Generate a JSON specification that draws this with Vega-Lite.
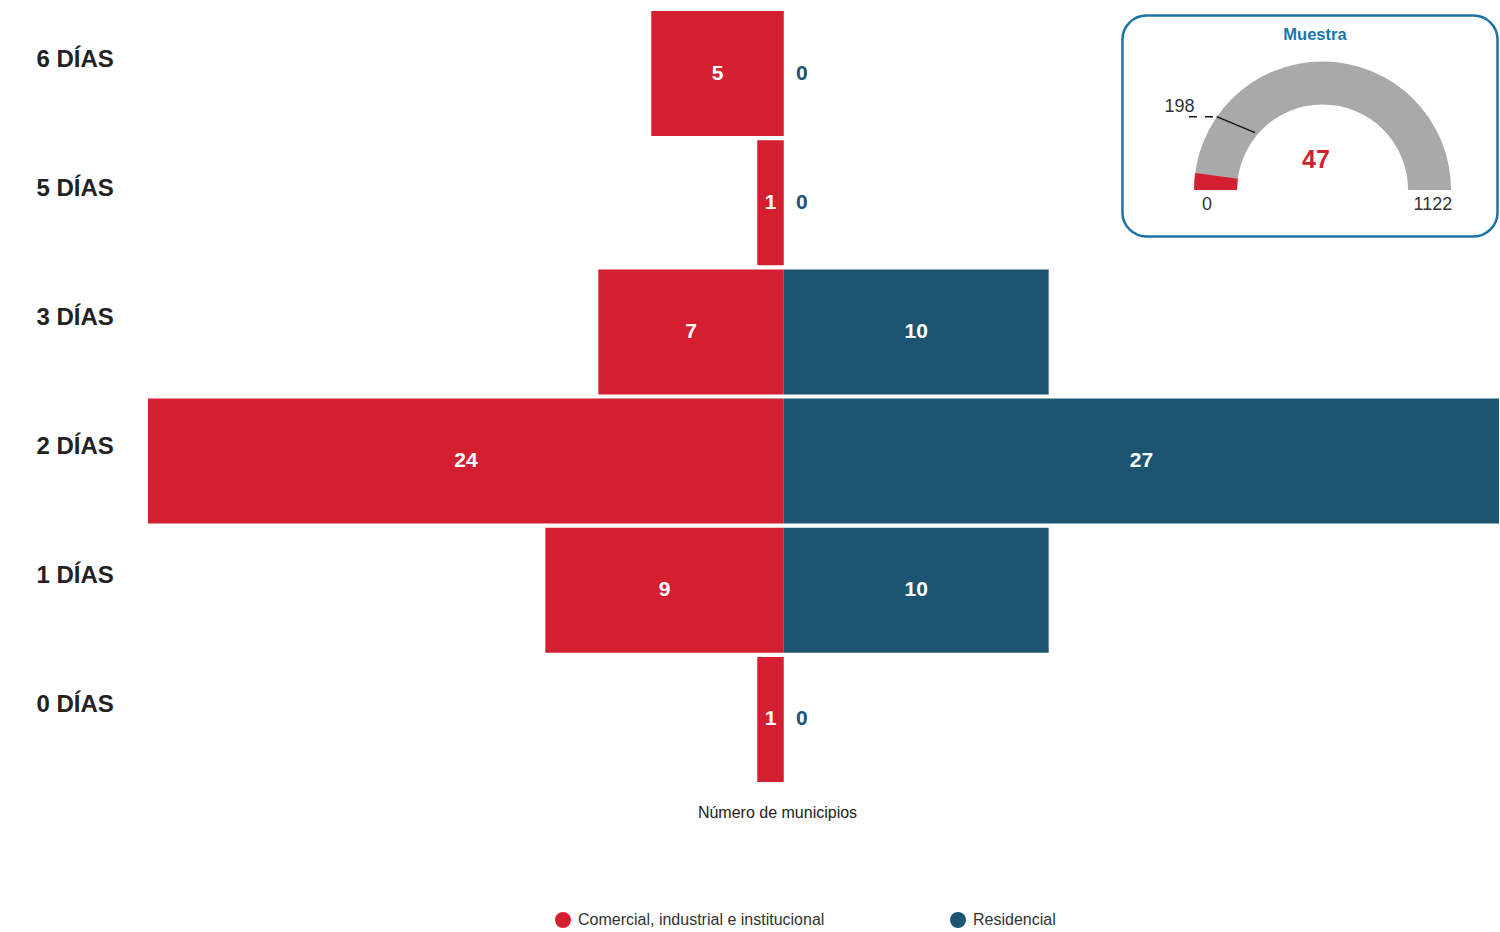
{
  "$schema": "https://vega.github.io/schema/vega-lite/v6.json",
  "width": 1351,
  "height": 775,
  "autosize": {"type": "pad"},
  "padding": {"left": 36, "top": 9, "right": 1, "bottom": 4},
  "config": {
    "view": {"stroke": null},
    "font": "Liberation Sans",
    "text": {"font": "Liberation Sans"}
  },
  "datasets": {
    "dias": [
      {"dias": "6 DÍAS", "tipo": "Comercial, industrial e institucional", "n": 5},
      {"dias": "6 DÍAS", "tipo": "Residencial", "n": 0},
      {"dias": "5 DÍAS", "tipo": "Comercial, industrial e institucional", "n": 1},
      {"dias": "5 DÍAS", "tipo": "Residencial", "n": 0},
      {"dias": "3 DÍAS", "tipo": "Comercial, industrial e institucional", "n": 7},
      {"dias": "3 DÍAS", "tipo": "Residencial", "n": 10},
      {"dias": "2 DÍAS", "tipo": "Comercial, industrial e institucional", "n": 24},
      {"dias": "2 DÍAS", "tipo": "Residencial", "n": 27},
      {"dias": "1 DÍAS", "tipo": "Comercial, industrial e institucional", "n": 9},
      {"dias": "1 DÍAS", "tipo": "Residencial", "n": 10},
      {"dias": "0 DÍAS", "tipo": "Comercial, industrial e institucional", "n": 1},
      {"dias": "0 DÍAS", "tipo": "Residencial", "n": 0}
    ],
    "gauge": [
      {"concepto": "Muestra", "valor": 47},
      {"concepto": "Total", "valor": 1122},
      {"concepto": "Referencia", "valor": 198}
    ]
  },
  "layer": [
    {
      "data": {"name": "dias"},
      "transform": [
        {"calculate": "datum.tipo == 'Residencial' ? datum.n : -datum.n", "as": "pos"},
        {"calculate": "datum.pos / 2", "as": "mid"}
      ],
      "layer": [
        {
          "mark": {"type": "bar"},
          "encoding": {
            "y": {
              "field": "dias", "type": "nominal",
              "sort": ["6 DÍAS", "5 DÍAS", "3 DÍAS", "2 DÍAS", "1 DÍAS", "0 DÍAS"],
              "scale": {"paddingInner": 0.0325, "paddingOuter": 0.01625},
              "axis": {
                "title": null, "domain": false, "ticks": false, "grid": false,
                "labelFontSize": 24, "labelFontWeight": "bold", "labelColor": "#222222",
                "labelAlign": "left", "labelPadding": 112, "labelOffset": -14,
                "labelBaseline": "middle", "labelFont": "Liberation Sans"
              }
            },
            "x": {
              "field": "pos", "type": "quantitative", "stack": null,
              "scale": {"domain": [-24, 27], "nice": false},
              "axis": {
                "title": "Número de municipios", "labels": false, "ticks": false,
                "domain": false, "grid": false, "titleFontSize": 16,
                "titleFontWeight": "normal", "titleColor": "#222222",
                "titlePadding": 20, "titleX": 629, "titleFont": "Liberation Sans"
              }
            },
            "color": {
              "field": "tipo", "type": "nominal",
              "scale": {
                "domain": ["Comercial, industrial e institucional", "Residencial"],
                "range": ["#d41f30", "#1c5472"]
              },
              "legend": {
                "title": null, "orient": "none", "legendX": 407, "legendY": 903,
                "direction": "horizontal", "symbolType": "circle", "symbolSize": 256,
                "symbolStrokeWidth": 0, "symbolOpacity": 1, "labelFontSize": 16,
                "labelColor": "#333333", "labelFont": "Liberation Sans", "labelLimit": 500,
                "columnPadding": 125, "labelOffset": 7
              }
            }
          }
        },
        {
          "transform": [{"filter": "datum.n > 0"}],
          "mark": {"type": "text", "fontSize": 21, "fontWeight": "bold", "color": "#ffffff", "align": "center", "baseline": "middle"},
          "encoding": {
            "y": {"field": "dias", "type": "nominal", "sort": ["6 DÍAS", "5 DÍAS", "3 DÍAS", "2 DÍAS", "1 DÍAS", "0 DÍAS"]},
            "x": {"field": "mid", "type": "quantitative"},
            "text": {"field": "n", "type": "quantitative"}
          }
        },
        {
          "transform": [{"filter": "datum.n == 0"}],
          "mark": {"type": "text", "fontSize": 21, "fontWeight": "bold", "color": "#1c5472", "align": "center", "baseline": "middle", "dx": 18},
          "encoding": {
            "y": {"field": "dias", "type": "nominal", "sort": ["6 DÍAS", "5 DÍAS", "3 DÍAS", "2 DÍAS", "1 DÍAS", "0 DÍAS"]},
            "x": {"field": "pos", "type": "quantitative"},
            "text": {"field": "n", "type": "quantitative"}
          }
        }
      ]
    },
    {
      "data": {"name": "gauge"},
      "layer": [
        {
          "transform": [{"filter": "datum.concepto == 'Total'"}],
          "mark": {"type": "rect", "filled": false, "color": "#1b73a6", "strokeWidth": 2.5, "cornerRadius": 24},
          "encoding": {
            "x": {"datum": 0.7213, "type": "quantitative", "scale": {"domain": [0, 1]}, "axis": null},
            "x2": {"datum": 0.9989},
            "y": {"datum": 0.0084, "type": "quantitative", "scale": {"domain": [0, 1], "reverse": true}, "axis": null},
            "y2": {"datum": 0.2935}
          }
        },
        {
          "transform": [{"filter": "datum.concepto == 'Total'"}],
          "mark": {"type": "text", "fontSize": 16.5, "fontWeight": "bold", "color": "#1b75a8", "align": "center", "baseline": "middle"},
          "encoding": {
            "x": {"datum": 0.8638, "type": "quantitative", "axis": null},
            "y": {"datum": 0.0335, "type": "quantitative", "axis": null},
            "text": {"value": "Muestra"}
          }
        },
        {
          "transform": [{"filter": "datum.concepto == 'Total'"}],
          "mark": {"type": "arc", "innerRadius": 85.5, "outerRadius": 128.5, "color": "#a8a9a8"},
          "encoding": {
            "x": {"datum": 0.8694, "type": "quantitative", "axis": null},
            "y": {"datum": 0.2335, "type": "quantitative", "axis": null},
            "theta": {"field": "valor", "type": "quantitative", "stack": null, "scale": {"domain": [0, 1122], "range": [-1.5708, 1.5708]}},
            "theta2": {"datum": 0}
          }
        },
        {
          "transform": [{"filter": "datum.concepto == 'Muestra'"}],
          "mark": {"type": "arc", "innerRadius": 85.5, "outerRadius": 128.5, "color": "#d41f30"},
          "encoding": {
            "x": {"datum": 0.8694, "type": "quantitative", "axis": null},
            "y": {"datum": 0.2335, "type": "quantitative", "axis": null},
            "theta": {"field": "valor", "type": "quantitative", "stack": null},
            "theta2": {"datum": 0}
          }
        },
        {
          "transform": [{"filter": "datum.concepto == 'Referencia'"}],
          "mark": {"type": "rule", "color": "#111111", "strokeWidth": 1.3, "strokeDash": [8, 8]},
          "encoding": {
            "x": {"datum": 0.7705, "type": "quantitative", "axis": null},
            "x2": {"datum": 0.791},
            "y": {"datum": 0.139, "type": "quantitative", "axis": null}
          }
        },
        {
          "transform": [{"filter": "datum.concepto == 'Referencia'"}],
          "mark": {"type": "rule", "color": "#111111", "strokeWidth": 1.3},
          "encoding": {
            "x": {"datum": 0.791, "type": "quantitative", "axis": null},
            "x2": {"datum": 0.8194},
            "y": {"datum": 0.139, "type": "quantitative", "axis": null},
            "y2": {"datum": 0.1596}
          }
        },
        {
          "transform": [{"filter": "datum.concepto == 'Referencia'"}],
          "mark": {"type": "text", "fontSize": 18, "color": "#333333", "align": "center", "baseline": "middle"},
          "encoding": {
            "x": {"datum": 0.7635, "type": "quantitative", "axis": null},
            "y": {"datum": 0.1265, "type": "quantitative", "axis": null},
            "text": {"field": "valor", "type": "quantitative"}
          }
        },
        {
          "transform": [{"filter": "datum.concepto == 'Muestra'"}],
          "mark": {"type": "text", "fontSize": 25, "fontWeight": "bold", "color": "#d41f30", "align": "center", "baseline": "middle"},
          "encoding": {
            "x": {"datum": 0.8645, "type": "quantitative", "axis": null},
            "y": {"datum": 0.1948, "type": "quantitative", "axis": null},
            "text": {"field": "valor", "type": "quantitative"}
          }
        },
        {
          "transform": [{"filter": "datum.concepto == 'Total'"}],
          "mark": {"type": "text", "fontSize": 18, "color": "#333333", "align": "center", "baseline": "middle"},
          "encoding": {
            "x": {"datum": 0.9511, "type": "quantitative", "axis": null},
            "y": {"datum": 0.2529, "type": "quantitative", "axis": null},
            "text": {"field": "valor", "type": "quantitative"}
          }
        },
        {
          "transform": [{"filter": "datum.concepto == 'Total'"}],
          "mark": {"type": "text", "fontSize": 18, "color": "#333333", "align": "center", "baseline": "middle"},
          "encoding": {
            "x": {"datum": 0.7839, "type": "quantitative", "axis": null},
            "y": {"datum": 0.2529, "type": "quantitative", "axis": null},
            "text": {"value": "0"}
          }
        }
      ]
    }
  ],
  "resolve": {
    "scale": {"x": "independent", "y": "independent", "color": "independent"},
    "axis": {"x": "independent", "y": "independent"}
  }
}
